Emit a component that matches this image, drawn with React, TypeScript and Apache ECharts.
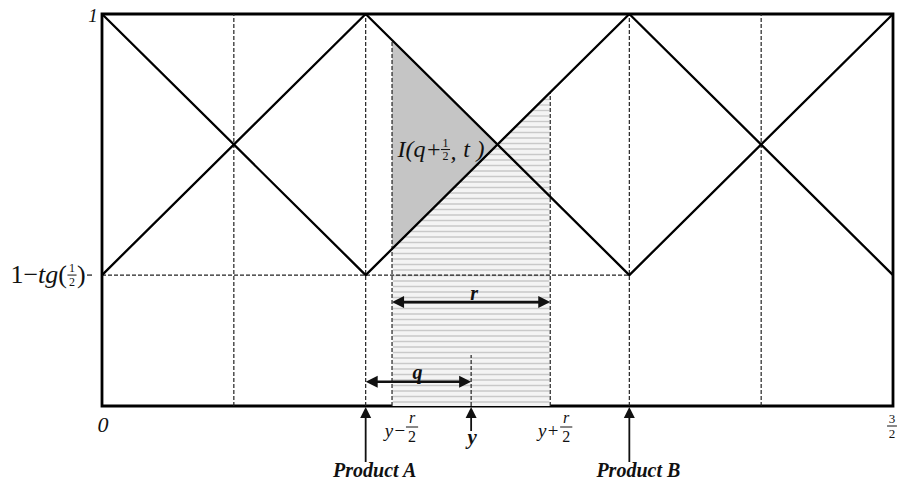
import React, { useEffect, useRef } from "react";
import * as echarts from "echarts";

// Corner positions on the taste line, from 0 to 3/2
const cornerXs = [0, 0.5, 1, 1.5];
// 1 - tg(1/2) on the vertical scale
const lowLevel = 0.334;
// The two zig-zag indifference borders
const descendingFirst = [1, lowLevel, 1, lowLevel];
const ascendingFirst = [lowLevel, 1, lowLevel, 1];
// Full-height dashed guides
const quarterGuides = [0.25, 0.5, 1, 1.25];
// Products and the consumer's interval
const productA = 0.5;
const productB = 1.0;
const consumerY = 0.7;
const radiusR = 0.3;
// Heights of the annotation arrows
const rArrowLevel = 0.265;
const qArrowLevel = 0.062;
const yMarkerTop = 0.13;

const serif = '"Liberation Serif", "Times New Roman", serif';
const ink = "#111";

function zigValue(values: number[], x: number): number {
  for (let i = 0; i < cornerXs.length - 1; i++) {
    const a = cornerXs[i];
    const b = cornerXs[i + 1];
    if (x >= a && x <= b) {
      const t = (x - a) / (b - a);
      return values[i] + (values[i + 1] - values[i]) * t;
    }
  }
  return values[values.length - 1];
}

function txt(x: number, y: number, text: string, opts: any = {}) {
  return {
    type: "text",
    x,
    y,
    silent: true,
    style: {
      text,
      fill: ink,
      fontFamily: serif,
      fontSize: 20,
      align: "center",
      verticalAlign: "middle",
      ...opts,
    },
  };
}

function seg(x1: number, y1: number, x2: number, y2: number, style: any = {}) {
  return {
    type: "line",
    silent: true,
    shape: { x1, y1, x2, y2 },
    style: { stroke: ink, lineWidth: 1, ...style },
  };
}

function tri(points: number[][]) {
  return { type: "polygon", silent: true, shape: { points }, style: { fill: ink } };
}

function fraction(cx: number, cy: number, num: string, den: string, size: number, numOpts: any = {}, denOpts: any = {}) {
  const gap = size * 0.58;
  return [
    txt(cx, cy - gap, num, { fontSize: size, ...numOpts }),
    seg(cx - size * 0.38, cy, cx + size * 0.38, cy, { lineWidth: 1 }),
    txt(cx, cy + gap, den, { fontSize: size, ...denOpts }),
  ];
}

function doubleArrow(p: number[], q: number[]) {
  const head = 12;
  const half = 6;
  const y = p[1];
  return [
    seg(p[0] + head - 1, y, q[0] - head + 1, y, { lineWidth: 2.6 }),
    tri([[p[0], y], [p[0] + head, y - half], [p[0] + head, y + half]]),
    tri([[q[0], y], [q[0] - head, y - half], [q[0] - head, y + half]]),
  ];
}

function upArrow(base: number[], length: number) {
  const tipY = base[1] + 1;
  const x = base[0];
  return [
    seg(x, tipY + 9, x, tipY + length, { lineWidth: 1.8 }),
    tri([[x, tipY], [x - 5.5, tipY + 11], [x + 5.5, tipY + 11]]),
  ];
}

const x0 = consumerY - radiusR / 2;
const x1 = consumerY + radiusR / 2;
const crossX = (productA + productB) / 2;

export default function App() {
  const ref = useRef<HTMLDivElement>(null);

  useEffect(() => {
    if (!ref.current) return;
    const chart = echarts.init(ref.current, undefined, { renderer: "svg" });

    const dash = { stroke: "#222", lineWidth: 1.2, lineDash: [4, 2] };

    const option: any = {
      animation: false,
      backgroundColor: "#fff",
      grid: {
        left: 102,
        right: 5,
        top: 14,
        bottom: 78,
        show: true,
        borderColor: "#000",
        borderWidth: 2.8,
        backgroundColor: "transparent",
      },
      xAxis: {
        type: "value",
        min: 0,
        max: 1.5,
        axisLine: { show: false },
        axisTick: { show: false },
        axisLabel: { show: false },
        splitLine: { show: false },
      },
      yAxis: {
        type: "value",
        min: 0,
        max: 1,
        axisLine: { show: false },
        axisTick: { show: false },
        axisLabel: { show: false },
        splitLine: { show: false },
      },
      series: [
        {
          // shaded consumer interval and the dark overlap triangle
          type: "custom",
          z: 1,
          silent: true,
          data: [[0, 0]],
          renderItem: (_params: any, api: any) => {
            const c = (x: number, y: number) => api.coord([x, y]);
            const b0 = c(x0, 0);
            const b1 = c(x1, 0);
            const t0 = c(x0, zigValue(descendingFirst, x0));
            const t1 = c(x1, zigValue(descendingFirst, x1));
            const children: any[] = [
              { type: "polygon", silent: true, shape: { points: [b0, t0, t1, b1] }, style: { fill: "#f4f4f4" } },
            ];
            for (let py = b0[1] - 4; py > t1[1] + 1; py -= 5.5) {
              let left = b0[0];
              if (py < t0[1]) left = t0[0] + ((t0[1] - py) / (t0[1] - t1[1])) * (t1[0] - t0[0]);
              children.push(seg(left + 1, py, b1[0] - 1, py, { stroke: "#c9c9c9", lineWidth: 1.3 }));
            }
            const d0 = c(x0, zigValue(ascendingFirst, x0));
            const dc = c(crossX, zigValue(ascendingFirst, crossX));
            children.push({
              type: "polygon",
              silent: true,
              shape: { points: [d0, dc, t0] },
              style: { fill: "#c5c5c5" },
            });
            return { type: "group", children };
          },
        },
        {
          type: "custom",
          z: 2,
          silent: true,
          data: [[0, 0]],
          renderItem: (_params: any, api: any) => {
            const c = (x: number, y: number) => api.coord([x, y]);
            const children: any[] = [];
            quarterGuides.forEach((gx) => {
              const a = c(gx, 0);
              const b = c(gx, 1);
              children.push(seg(a[0], a[1], b[0], b[1], dash));
            });
            const h0 = c(0, lowLevel);
            const h1 = c(productB, lowLevel);
            children.push(seg(h0[0], h0[1], h1[0], h1[1], dash));
            const l0 = c(x0, 0);
            const l1 = c(x0, zigValue(ascendingFirst, x0));
            children.push(seg(l0[0], l0[1], l1[0], l1[1], dash));
            const r0 = c(x1, 0);
            const r1 = c(x1, zigValue(descendingFirst, x1));
            children.push(seg(r0[0], r0[1], r1[0], r1[1], dash));
            const y0 = c(consumerY, 0);
            const y1 = c(consumerY, yMarkerTop);
            children.push(seg(y0[0], y0[1], y1[0], y1[1], dash));
            return { type: "group", children };
          },
        },
        {
          type: "line",
          z: 3,
          silent: true,
          data: cornerXs.map((x, i) => [x, descendingFirst[i]]),
          symbol: "none",
          lineStyle: { color: "#000", width: 2.3 },
        },
        {
          type: "line",
          z: 3,
          silent: true,
          data: cornerXs.map((x, i) => [x, ascendingFirst[i]]),
          symbol: "none",
          lineStyle: { color: "#000", width: 2.3 },
        },
        {
          // arrows and labels
          type: "custom",
          z: 4,
          silent: true,
          data: [[0, 0]],
          renderItem: (_params: any, api: any) => {
            const c = (x: number, y: number) => api.coord([x, y]);
            const children: any[] = [];
            const bold = { fontWeight: "bold", fontStyle: "italic" };
            const it = { fontStyle: "italic" };

            // r and q spans
            const ra = c(x0, rArrowLevel);
            const rb = c(x1, rArrowLevel);
            children.push(...doubleArrow(ra, rb));
            children.push(txt((ra[0] + rb[0]) / 2 + 3, ra[1] - 9, "r", { ...bold }));
            const qa = c(productA, qArrowLevel);
            const qb = c(consumerY, qArrowLevel);
            children.push(...doubleArrow(qa, qb));
            children.push(txt((qa[0] + qb[0]) / 2 - 1, qa[1] - 10, "q", { ...bold }));

            // markers under the axis
            const pa = c(productA, 0);
            children.push(...upArrow(pa, 55));
            children.push(txt(pa[0] + 9, pa[1] + 64, "Product A", { ...bold }));
            const pb = c(productB, 0);
            children.push(...upArrow(pb, 55));
            children.push(txt(pb[0] + 9, pb[1] + 64, "Product B", { ...bold }));
            const py = c(consumerY, 0);
            children.push(...upArrow(py, 24));
            children.push(txt(py[0] + 1, py[1] + 31, "y", { ...bold, fontSize: 21 }));

            // interval ends
            const e0 = c(x0, 0);
            children.push(txt(e0[0] + 14, e0[1] + 24, "y−", { ...it, fontSize: 19, align: "right" }));
            children.push(...fraction(e0[0] + 20, e0[1] + 21, "r", "2", 16, it));
            const e1 = c(x1, 0);
            children.push(txt(e1[0] + 9, e1[1] + 24, "y+", { ...it, fontSize: 19, align: "right" }));
            children.push(...fraction(e1[0] + 16, e1[1] + 21, "r", "2", 16, it));

            // axis values
            const o = c(0, 0);
            children.push(txt(o[0] + 1, o[1] + 18, "0", { ...it, fontSize: 22 }));
            const one = c(0, 1);
            children.push(txt(one[0] - 9, one[1] + 1, "1", { ...it, fontSize: 19 }));
            const end = c(1.5, 0);
            children.push(...fraction(end[0] - 1, end[1] + 20, "3", "2", 13));

            // 1 - tg(1/2)
            const lw = c(0, lowLevel);
            children.push({
              type: "text",
              x: lw[0] - 35,
              y: lw[1] - 1,
              silent: true,
              style: {
                text: "{n|1−}{i|tg}{n|(}",
                align: "right",
                verticalAlign: "middle",
                rich: {
                  n: { fontFamily: serif, fontSize: 26, fill: ink },
                  i: { fontFamily: serif, fontSize: 26, fontStyle: "italic", fill: ink },
                },
              },
            });
            children.push(...fraction(lw[0] - 30, lw[1], "1", "2", 12));
            children.push(txt(lw[0] - 25, lw[1] - 1, ")", { fontSize: 26, align: "left" }));
            children.push(seg(lw[0] - 15, lw[1], lw[0] - 10, lw[1], { lineWidth: 1.2 }));

            // I(q + 1/2, t)
            const cr = c(crossX, zigValue(ascendingFirst, crossX));
            children.push(txt(cr[0] - 100, cr[1] + 4, "I(q+", { ...it, fontSize: 24, align: "left" }));
            children.push(...fraction(cr[0] - 52, cr[1] + 5, "1", "2", 12));
            children.push(txt(cr[0] - 44, cr[1] + 6, ",", { ...it, fontSize: 24 }));
            children.push(txt(cr[0] - 31, cr[1] + 4, "t", { ...it, fontSize: 24 }));
            children.push(txt(cr[0] - 17, cr[1] + 4, ")", { ...it, fontSize: 24 }));

            return { type: "group", children };
          },
        },
      ],
    };

    chart.setOption(option);
    return () => chart.dispose();
  }, []);

  return (
    <div
      ref={ref}
      style={{ position: "absolute", left: 0, top: 0, width: 898, height: 484, background: "#fff" }}
    />
  );
}
